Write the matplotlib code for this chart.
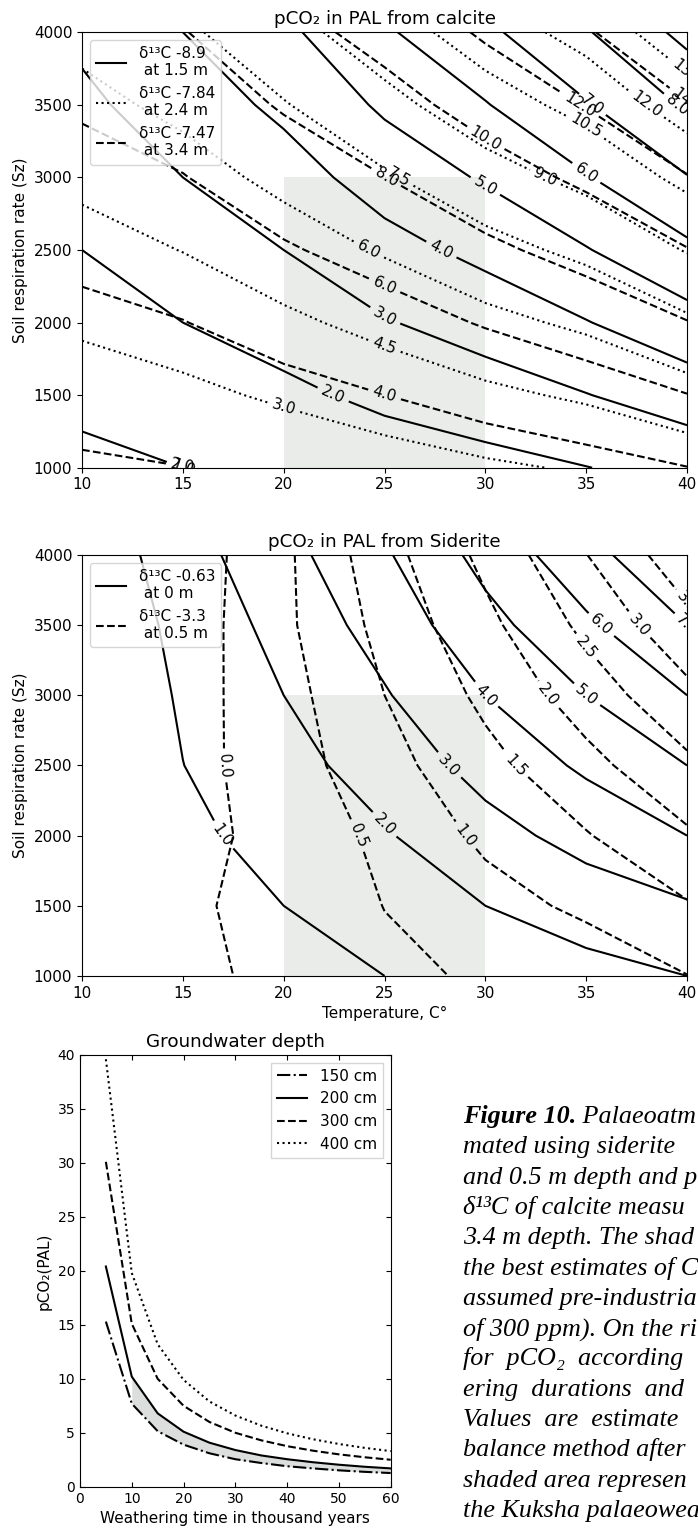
import numpy as np
import matplotlib.pyplot as plt
from matplotlib.lines import Line2D

plt.rcParams['font.size'] = 11

# grid of the soil model: temperature (C) x soil respiration rate (Sz)
temps = [10, 15, 20, 25, 30, 35, 40]
sz = [1000, 1500, 2000, 2500, 3000, 3500, 4000]

# pCO2 (PAL) from calcite, rows = Sz, columns = temperature
calcite_15 = [
    [0.80, 1.00, 1.20, 1.47, 1.70, 1.98, 2.32],
    [1.20, 1.50, 1.80, 2.21, 2.55, 2.97, 3.48],
    [1.60, 2.00, 2.40, 2.94, 3.40, 3.96, 4.64],
    [2.00, 2.50, 3.00, 3.68, 4.25, 4.95, 5.80],
    [2.40, 3.00, 3.60, 4.41, 5.10, 5.94, 6.96],
    [2.80, 3.50, 4.20, 5.15, 5.95, 6.93, 8.12],
    [3.20, 4.00, 4.80, 5.88, 6.80, 7.92, 9.28],
]
calcite_24 = [
    [1.60, 1.81, 2.12, 2.45, 2.81, 3.13, 3.63],
    [2.40, 2.72, 3.18, 3.68, 4.22, 4.70, 5.45],
    [3.20, 3.62, 4.24, 4.90, 5.62, 6.26, 7.26],
    [4.00, 4.53, 5.30, 6.13, 7.03, 7.83, 9.08],
    [4.80, 5.43, 6.36, 7.35, 8.43, 9.39, 10.89],
    [5.60, 6.34, 7.42, 8.58, 9.84, 10.96, 12.71],
    [6.40, 7.24, 8.48, 9.80, 11.24, 12.52, 14.52],
]
calcite_34 = [
    [1.78, 1.98, 2.33, 2.66, 3.06, 3.45, 3.97],
    [2.67, 2.97, 3.50, 3.99, 4.59, 5.18, 5.96],
    [3.56, 3.96, 4.66, 5.32, 6.12, 6.90, 7.94],
    [4.45, 4.95, 5.83, 6.65, 7.65, 8.63, 9.93],
    [5.34, 5.94, 6.99, 7.98, 9.18, 10.35, 11.91],
    [6.23, 6.93, 8.16, 9.31, 10.71, 12.08, 13.90],
    [7.12, 7.92, 9.32, 10.64, 12.24, 13.80, 15.88],
]
calcite_levels_15 = [1, 2, 3, 4, 5, 6, 7, 8, 9]
calcite_levels_24 = [3.0, 4.5, 6.0, 7.5, 9.0, 10.5, 12.0, 13.5]
calcite_levels_34 = [2, 4, 6, 8, 10, 12, 14]
calcite_labels = ["δ¹³C -8.9\n at 1.5 m", "δ¹³C -7.84\n at 2.4 m", "δ¹³C -7.47\n at 3.4 m"]

# pCO2 (PAL) from siderite
siderite_0 = [
    [0.05, 0.40, 0.67, 1.00, 1.33, 1.67, 2.00],
    [0.08, 0.60, 1.00, 1.45, 2.00, 2.50, 2.90],
    [0.10, 0.79, 1.33, 1.92, 2.67, 3.33, 4.00],
    [0.10, 0.99, 1.67, 2.42, 3.33, 4.16, 5.00],
    [0.10, 1.11, 2.00, 2.92, 4.00, 5.00, 6.00],
    [0.15, 1.27, 2.33, 3.40, 4.67, 5.83, 7.00],
    [0.20, 1.59, 2.67, 3.88, 5.33, 6.66, 7.95],
]
siderite_05 = [
    [-0.10, -0.05, 0.05, 0.38, 0.57, 0.71, 0.99],
    [-0.15, -0.05, 0.10, 0.51, 0.83, 1.09, 1.46],
    [-0.20, -0.10, 0.10, 0.64, 1.09, 1.47, 1.93],
    [-0.25, -0.18, 0.26, 0.83, 1.35, 1.85, 2.40],
    [-0.30, -0.21, 0.31, 1.00, 1.61, 2.24, 2.87],
    [-0.35, -0.27, 0.40, 1.15, 1.87, 2.62, 3.35],
    [-0.40, -0.31, 0.40, 1.31, 2.13, 2.99, 3.82],
]
siderite_levels_0 = [1, 2, 3, 4, 5, 6, 7]
siderite_levels_05 = [0.0, 0.5, 1.0, 1.5, 2.0, 2.5, 3.0, 3.5]
siderite_labels = ["δ¹³C -0.63\n at 0 m", "δ¹³C -3.3\n at 0.5 m"]

# best-estimate box
shade_t = [20, 30]
shade_sz = [1000, 3000]

# groundwater depth panel
weather_kyr = [5, 10, 15, 20, 25, 30, 35, 40, 45, 50, 55, 60]
gw_150 = [15.3, 7.7, 5.15, 3.9, 3.1, 2.55, 2.2, 1.9, 1.7, 1.52, 1.38, 1.27]
gw_200 = [20.4, 10.2, 6.8, 5.1, 4.08, 3.4, 2.9, 2.55, 2.27, 2.04, 1.85, 1.7]
gw_300 = [30.1, 15.1, 10.0, 7.5, 6.0, 5.0, 4.3, 3.76, 3.34, 3.0, 2.73, 2.5]
gw_400 = [39.6, 19.8, 13.2, 9.9, 7.9, 6.6, 5.66, 4.95, 4.4, 3.96, 3.6, 3.3]

caption = [
    "mated using siderite",
    "and 0.5 m depth and p",
    "δ¹³C of calcite measu",
    "3.4 m depth. The shad",
    "the best estimates of C",
    "assumed pre-industria",
    "of 300 ppm). On the ri",
    "for  pCO₂  according",
    "ering  durations  and",
    "Values  are  estimate",
    "balance method after",
    "shaded area represen",
    "the Kuksha palaeowea",
]


def contour_panel(ax, grids, levels, styles, labels, title):
    ax.fill_between(shade_t, shade_sz[0], shade_sz[1], color='#eaecea', lw=0, zorder=0)
    handles = []
    for grid, lev, ls, lab in zip(grids, levels, styles, labels):
        cs = ax.contour(temps, sz, np.array(grid), levels=lev, colors='k',
                        linestyles=ls, linewidths=1.5)
        ax.clabel(cs, fmt='%1.1f', fontsize=11, inline=True)
        handles.append(Line2D([], [], color='k', ls=ls, lw=1.5, label=lab))
    ax.set_xlim(10, 40)
    ax.set_ylim(1000, 4000)
    ax.set_xticks(range(10, 41, 5))
    ax.set_yticks(range(1000, 4001, 500))
    ax.set_ylabel('Soil respiration rate (Sz)')
    ax.set_title(title, fontsize=13.2)
    ax.legend(handles=handles, loc='upper left', fontsize=11)


fig = plt.figure(figsize=(6.98, 15.28), dpi=100)
ax1 = fig.add_axes([0.1175, 0.6939, 0.8668, 0.2850])
ax2 = fig.add_axes([0.1175, 0.3613, 0.8668, 0.2755])
ax3 = fig.add_axes([0.1146, 0.0270, 0.4451, 0.2826])

contour_panel(ax1, [calcite_15, calcite_24, calcite_34],
              [calcite_levels_15, calcite_levels_24, calcite_levels_34],
              ['solid', 'dotted', 'dashed'], calcite_labels, 'pCO₂ in PAL from calcite')
contour_panel(ax2, [siderite_0, siderite_05],
              [siderite_levels_0, siderite_levels_05],
              ['solid', 'dashed'], siderite_labels, 'pCO₂ in PAL from Siderite')
ax2.set_xlabel('Temperature, C°')

# groundwater panel
ax3.fill_between(weather_kyr[1:], gw_150[1:], gw_200[1:], color='#dcdddd', lw=0)
ax3.plot(weather_kyr, gw_150, 'k-.', lw=1.5, label='150 cm')
ax3.plot(weather_kyr, gw_200, 'k-', lw=1.5, label='200 cm')
ax3.plot(weather_kyr, gw_300, 'k--', lw=1.5, label='300 cm')
ax3.plot(weather_kyr, gw_400, 'k:', lw=1.5, label='400 cm')
ax3.set_xlim(0, 60)
ax3.set_ylim(0, 40)
ax3.set_xticks(range(0, 61, 10))
ax3.set_yticks(range(0, 41, 5))
ax3.tick_params(direction='in', top=True, right=True, labelsize=10)
ax3.set_title('Groundwater depth', fontsize=13.2)
ax3.set_xlabel('Weathering time in thousand years', fontsize=11)
ax3.set_ylabel('pCO₂(PAL)', fontsize=11)
ax3.legend(loc='upper right', fontsize=11, fancybox=False)

# caption text on the right
cap_x = 463 / 698
y0 = 1123
step = 30.3
fs = 18.8
serif = ['Liberation Serif', 'DejaVu Serif']
t = fig.text(cap_x, 1 - y0 / 1528, 'Figure 10.', family=serif, style='italic',
             weight='bold', fontsize=fs, va='baseline')
renderer = fig.canvas.get_renderer()
bb = t.get_window_extent(renderer)
fig.text(bb.x1 / fig.bbox.width, 1 - y0 / 1528, ' Palaeoatm', family=serif,
         style='italic', fontsize=fs, va='baseline')
for i, line in enumerate(caption):
    fig.text(cap_x, 1 - (y0 + (i + 1) * step) / 1528, line, family=serif,
             style='italic', fontsize=fs, va='baseline')

fig.savefig('out.png', dpi=100)
